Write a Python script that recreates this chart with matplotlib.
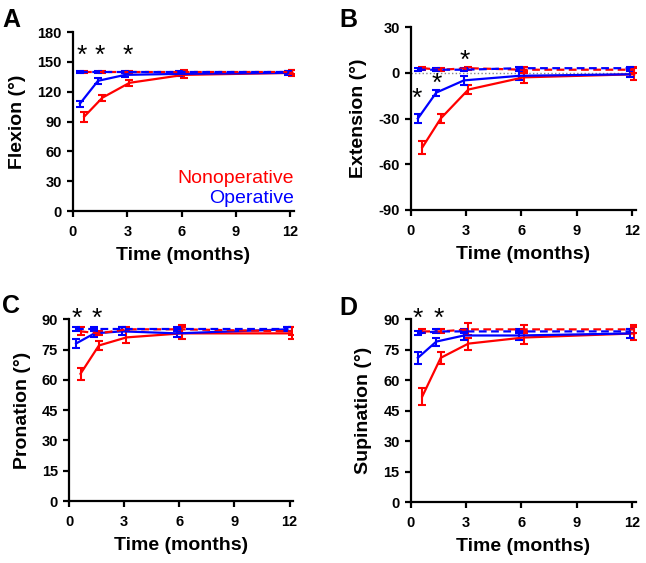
import matplotlib
matplotlib.use("Agg")
import matplotlib.pyplot as plt
import numpy as np

plt.rcParams['font.family'] = ['Liberation Sans', 'DejaVu Sans']
plt.rcParams['font.weight'] = 'bold'
plt.rcParams['axes.unicode_minus'] = False

months = np.array([0.5, 1.5, 3, 6, 12])

# flexion
flex_nonop = [95, 114, 129, 137, 139]
flex_nonop_err = [5, 3, 3, 3, 3]
flex_op = [108, 131, 137, 138, 139]
flex_op_err = [3, 3, 2, 2, 2]
flex_nonop_contra = [140, 140, 140, 140, 140]
flex_nonop_contra_err = [1, 1, 1, 2, 2]
flex_op_contra = [140, 140, 140, 140, 140]
flex_op_contra_err = [1, 1, 1, 1, 1]

# extension
ext_nonop = [-49, -30, -11, -3, -1]
ext_nonop_err = [4, 3, 3, 4, 4]
ext_op = [-30, -13, -5, -2, -1]
ext_op_err = [3, 2, 3, 3, 2]
ext_nonop_contra = [3, 2, 3, 2, 2]
ext_nonop_contra_err = [1, 1, 1, 2, 2]
ext_op_contra = [2, 2, 2, 3, 3]
ext_op_contra_err = [1, 1, 1, 1, 1]

# pronation
pro_nonop = [63, 77, 81, 83, 83]
pro_nonop_err = [3, 2, 3, 3, 3]
pro_op = [78, 83, 84, 83, 85]
pro_op_err = [2, 2, 2, 2, 1]
pro_nonop_contra = [84, 83, 85, 85, 84]
pro_nonop_contra_err = [2, 1, 1, 2, 2]
pro_op_contra = [85, 85, 85, 85, 85]
pro_op_contra_err = [1, 1, 1, 1, 1]

# supination
sup_nonop = [52, 71, 78, 81, 83]
sup_nonop_err = [4, 3, 3, 3, 3]
sup_op = [71, 79, 82, 82, 83]
sup_op_err = [3, 2, 2, 2, 2]
sup_nonop_contra = [84, 84, 85, 85, 85]
sup_nonop_contra_err = [1, 1, 3, 2, 2]
sup_op_contra = [83, 84, 84, 84, 84]
sup_op_contra_err = [1, 1, 1, 1, 1]

# significance markers (x, y)
stars_a = [(0.5, 156), (1.5, 156), (3, 156)]
stars_b = [(0.3, -17), (1.4, -7), (2.9, 8)]
stars_c = [(0.4, 90), (1.5, 90)]
stars_d = [(0.4, 90), (1.5, 90)]

RED = '#ff0000'
BLUE = '#0000ff'

fig = plt.figure(figsize=(6.46, 5.63), dpi=100)

panels = [
    ('A', [0.113, 0.625, 0.342, 0.318], 'Flexion (°)', (0, 180), np.arange(0, 181, 30),
     (flex_nonop, flex_nonop_err, flex_op, flex_op_err, flex_nonop_contra, flex_nonop_contra_err,
      flex_op_contra, flex_op_contra_err), stars_a),
    ('B', [0.636, 0.627, 0.348, 0.325], 'Extension (°)', (-90, 30), np.arange(-90, 31, 30),
     (ext_nonop, ext_nonop_err, ext_op, ext_op_err, ext_nonop_contra, ext_nonop_contra_err,
      ext_op_contra, ext_op_contra_err), stars_b),
    ('C', [0.107, 0.110, 0.347, 0.323], 'Pronation (°)', (0, 90), np.arange(0, 91, 15),
     (pro_nonop, pro_nonop_err, pro_op, pro_op_err, pro_nonop_contra, pro_nonop_contra_err,
      pro_op_contra, pro_op_contra_err), stars_c),
    ('D', [0.636, 0.108, 0.348, 0.325], 'Supination (°)', (0, 90), np.arange(0, 91, 15),
     (sup_nonop, sup_nonop_err, sup_op, sup_op_err, sup_nonop_contra, sup_nonop_contra_err,
      sup_op_contra, sup_op_contra_err), stars_d),
]

letter_pos = {'A': (0.003, 0.985), 'B': (0.526, 0.985), 'C': (0.003, 0.477), 'D': (0.526, 0.474)}

for letter, rect, ylabel, ylim, yticks, series, stars in panels:
    ax = fig.add_axes(rect)
    nonop, nonop_e, op, op_e, nc, nc_e, oc, oc_e = series
    kw = dict(capsize=3, elinewidth=1.5, capthick=1.5, lw=1.6)
    ax.errorbar(months + 0.12, nonop, yerr=nonop_e, color=RED, **kw)
    ax.errorbar(months - 0.12, op, yerr=op_e, color=BLUE, **kw)
    ax.errorbar(months + 0.12, nc, yerr=nc_e, color=RED, ls=(0, (3.5, 2)), **kw)
    ax.errorbar(months - 0.12, oc, yerr=oc_e, color=BLUE, ls=(0, (3.5, 2)), **kw)
    if letter == 'B':
        ax.axhline(0, color='#888888', lw=1, ls=':', zorder=0)
    for sx, sy in stars:
        ax.text(sx, sy, '*', fontsize=19, fontweight='normal', ha='center', va='center', clip_on=False)

    ax.set_xlim(0, 12.2)
    ax.set_ylim(*ylim)
    ax.set_xticks([0, 3, 6, 9, 12])
    ax.set_yticks(yticks)
    ax.spines['top'].set_visible(False)
    ax.spines['right'].set_visible(False)
    ax.spines['left'].set_linewidth(1.6)
    ax.spines['bottom'].set_linewidth(1.6)
    ax.tick_params(width=1.6, length=4, labelsize=10.5)
    ax.tick_params(axis='x', pad=6)
    ax.tick_params(axis='y', pad=4)
    for lbl in ax.get_xticklabels() + ax.get_yticklabels():
        lbl.set_fontweight('bold')
    ax.set_xlabel('Time (months)', fontsize=14, fontweight='bold', labelpad=6)
    ax.set_ylabel(ylabel, fontsize=14, fontweight='bold', labelpad=8)
    lx, ly = letter_pos[letter]
    fig.text(lx, ly, letter, fontsize=18, fontweight='bold', va='top', ha='left')

    if letter == 'A':
        ax.text(12.2, 33, 'Nonoperative', color=RED, fontsize=14, fontweight='normal',
                ha='right', va='center')
        ax.text(12.2, 13, 'Operative', color=BLUE, fontsize=14, fontweight='normal',
                ha='right', va='center')

fig.savefig('out.png', dpi=100)
